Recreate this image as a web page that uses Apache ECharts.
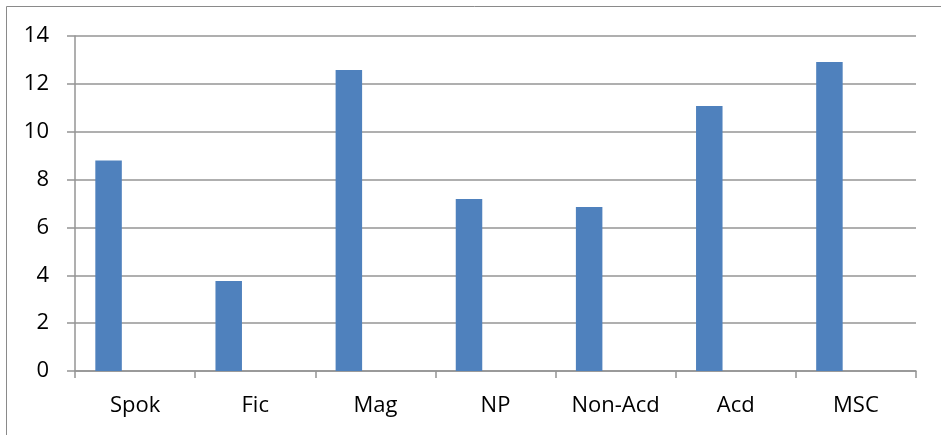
<!DOCTYPE html>
<html>
<head>
<meta charset="utf-8">
<script src="https://cdn.jsdelivr.net/npm/echarts@6/dist/echarts.min.js"></script>
<style>
  html, body { margin: 0; padding: 0; background: #fff; }
  #main { width: 941px; height: 435px; }
</style>
</head>
<body>
<div id="main"></div>
<script>
// values
var categories = ['Spok', 'Fic', 'Mag', 'NP', 'Non-Acd', 'Acd', 'MSC']
var values = [8.8, 3.76, 12.58, 7.19, 6.85, 11.07, 12.91]
var yTicks = { min: 0, max: 14, interval: 2 }

var chart = echarts.init(document.getElementById('main'))
var gridColor = '#949494'
var font = 'Open Sans'

// the source chart had two more empty series next to the first one,
// which pushes the visible bar to the left of each category
var emptySeries = {
  type: 'bar',
  barWidth: 26.5,
  barGap: '0%',
  data: []
}

chart.setOption({
  backgroundColor: '#fff',
  animation: false,
  graphic: [{
    type: 'rect',
    shape: { x: 6.5, y: 6.5, width: 1200, height: 1200 },
    style: { fill: 'none', stroke: '#8a8a8a', lineWidth: 1 },
    silent: true
  }],
  grid: { left: 75, right: 25, top: 36, bottom: 64 },
  xAxis: {
    type: 'category',
    data: categories,
    axisLine: { lineStyle: { color: gridColor, width: 1.5 } },
    axisTick: { show: true, length: 7, lineStyle: { color: gridColor, width: 1.5 } },
    axisLabel: { color: '#000', fontFamily: font, fontSize: 22, margin: 24 },
    splitLine: { show: false }
  },
  yAxis: {
    type: 'value',
    min: yTicks.min,
    max: yTicks.max,
    interval: yTicks.interval,
    axisLine: { show: true, lineStyle: { color: gridColor, width: 1.5 } },
    axisTick: { show: true, length: 8, lineStyle: { color: gridColor, width: 1.5 } },
    axisLabel: { color: '#000', fontFamily: font, fontSize: 22, margin: 26 },
    splitLine: { show: true, lineStyle: { color: gridColor, width: 1.5 } }
  },
  series: [
    {
      type: 'bar',
      barWidth: 26.5,
      barGap: '0%',
      itemStyle: { color: '#4f81bd' },
      data: values
    },
    emptySeries,
    Object.assign({}, emptySeries)
  ]
})
</script>
</body>
</html>
